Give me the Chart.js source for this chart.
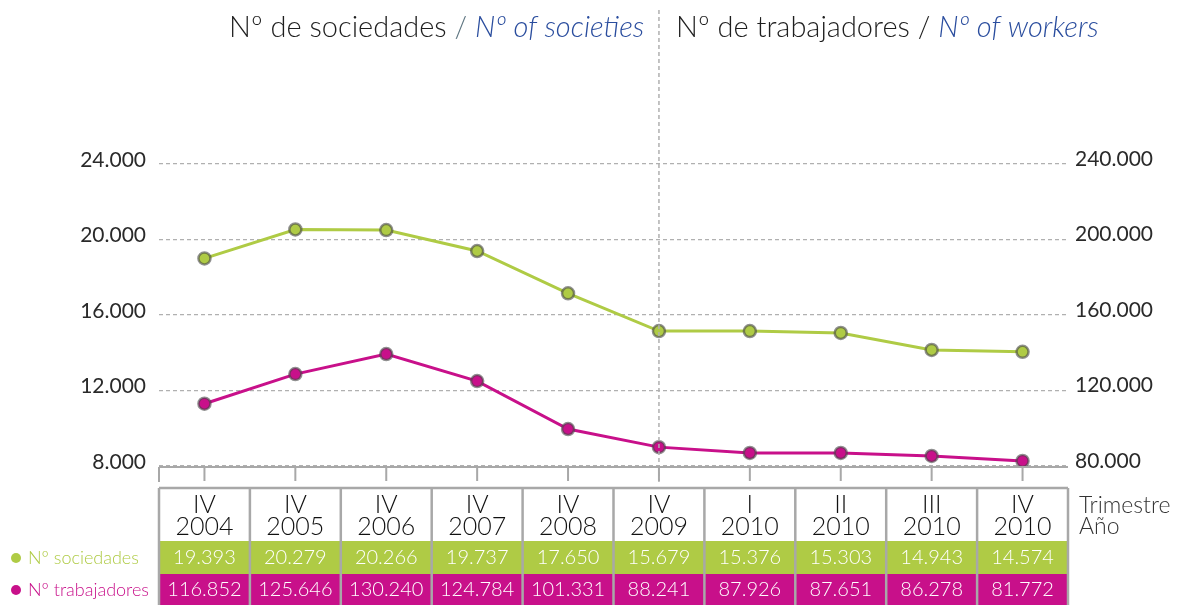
<!DOCTYPE html>
<html>
<head>
<meta charset="utf-8">
<script src="https://cdn.jsdelivr.net/npm/chart.js@4/dist/chart.umd.min.js"></script>
<style>
  html, body { margin: 0; padding: 0; background: #fff; }
  #chart { display: block; }
</style>
</head>
<body>
<canvas id="chart" width="1184" height="605"></canvas>
<script>
// trimestre / año
const quarters = ["IV", "IV", "IV", "IV", "IV", "IV", "I", "II", "III", "IV"];
const years = ["2004", "2005", "2006", "2007", "2008", "2009", "2010", "2010", "2010", "2010"];

// puntos tal como aparecen en el gráfico
const societies = [19000, 20530, 20500, 19390, 17150, 15150, 15150, 15050, 14150, 14050];
const workers = [113000, 128700, 139300, 125000, 99600, 90000, 86900, 86900, 85300, 82700];

// valores de la tabla
const societiesTable = [19393, 20279, 20266, 19737, 17650, 15679, 15376, 15303, 14943, 14574];
const workersTable = [116852, 125646, 130240, 124784, 101331, 88241, 87926, 87651, 86278, 81772];

const leftTicks = [8000, 12000, 16000, 20000, 24000];
const rightTicks = [80000, 120000, 160000, 200000, 240000];

const GREEN = "#afcb45";
const MAGENTA = "#c8108a";
const FONT = "Lato, 'Noto Sans', sans-serif";

function fmt(n) {
  return String(n).replace(/\B(?=(\d{3})+(?!\d))/g, ".");
}

const decor = {
  id: "decor",
  afterDraw(chart) {
    const ctx = chart.ctx;
    const x = chart.scales.x;
    const area = chart.chartArea;
    const cw = x.getPixelForValue(1) - x.getPixelForValue(0);
    const left = area.left;
    ctx.save();

    // titulos
    ctx.textBaseline = "alphabetic";
    function title(x0, parts) {
      let cx = x0;
      parts.forEach(p => {
        ctx.font = p[2] + " 300 29px " + FONT;
        ctx.fillStyle = p[1];
        ctx.fillText(p[0], cx, 37);
        cx += ctx.measureText(p[0]).width;
      });
    }
    ctx.textAlign = "left";
    title(229, [["Nº de sociedades ", "#1e1e1e", "normal"], ["/ ", "#5f7682", "normal"], ["Nº of societies", "#2a4d9e", "italic"]]);
    title(676, [["Nº de trabajadores / ", "#1e1e1e", "normal"], ["Nº of workers", "#2a4d9e", "italic"]]);

    // linea vertical discontinua
    const vx = x.getPixelForValue(5);
    ctx.strokeStyle = "#b0b0b0";
    ctx.lineWidth = 1.5;
    ctx.setLineDash([4, 3]);
    ctx.beginPath();
    ctx.moveTo(vx, 10);
    ctx.lineTo(vx, 482);
    ctx.stroke();
    ctx.setLineDash([]);

    // eje inferior y marcas
    ctx.strokeStyle = "#a8a8a8";
    ctx.lineWidth = 2;
    ctx.beginPath();
    ctx.moveTo(left, area.bottom + 1);
    ctx.lineTo(area.right, area.bottom + 1);
    ctx.moveTo(left, area.bottom + 1);
    ctx.lineTo(left, 482);
    quarters.forEach((q, i) => {
      const px = x.getPixelForValue(i);
      ctx.moveTo(px, area.bottom + 1);
      ctx.lineTo(px, 481);
    });
    ctx.stroke();

    // tabla
    const top = 488, r1 = 541, r2 = 574, bottom = 605;
    const right = left + cw * quarters.length;
    ctx.fillStyle = GREEN;
    ctx.fillRect(left, r1, right - left, r2 - r1);
    ctx.fillStyle = MAGENTA;
    ctx.fillRect(left, r2, right - left, bottom - r2);

    ctx.strokeStyle = "#a8a8a8";
    ctx.lineWidth = 2.5;
    ctx.beginPath();
    ctx.moveTo(left, top);
    ctx.lineTo(right, top);
    for (let i = 0; i <= quarters.length; i++) {
      ctx.moveTo(left + i * cw, top);
      ctx.lineTo(left + i * cw, bottom);
    }
    ctx.stroke();

    ctx.textAlign = "center";
    ctx.textBaseline = "middle";
    quarters.forEach((q, i) => {
      const cx = left + (i + 0.5) * cw;
      ctx.fillStyle = "#111";
      ctx.font = "300 25px " + FONT;
      ctx.fillText(q, cx, 505);
      ctx.fillText(years[i], cx, 527);
      ctx.fillStyle = "#ffffff";
      ctx.font = "300 20px " + FONT;
      ctx.fillText(fmt(societiesTable[i]), cx, 558);
      ctx.fillText(fmt(workersTable[i]), cx, 590);
    });

    // etiquetas de filas
    ctx.textAlign = "left";
    ctx.font = "300 18px " + FONT;
    [[GREEN, "Nº sociedades", 558], [MAGENTA, "Nº trabajadores", 590]].forEach(r => {
      ctx.fillStyle = r[0];
      ctx.beginPath();
      ctx.arc(16, r[2], 5, 0, Math.PI * 2);
      ctx.fill();
      ctx.fillText(r[1], 28, r[2]);
    });

    ctx.fillStyle = "#333";
    ctx.font = "300 23px " + FONT;
    ctx.fillText("Trimestre", 1079, 506);
    ctx.fillText("Año", 1079, 527);
    ctx.restore();
  }
};

new Chart(document.getElementById("chart"), {
  type: "line",
  data: {
    labels: years.map((y, i) => quarters[i] + " " + y),
    datasets: [
      {
        label: "Nº sociedades",
        data: societies,
        yAxisID: "y",
        borderColor: GREEN,
        backgroundColor: GREEN,
        borderWidth: 3,
        pointRadius: 6,
        pointBackgroundColor: GREEN,
        pointBorderColor: "rgba(70,70,70,0.6)",
        pointBorderWidth: 2.5,
        tension: 0
      },
      {
        label: "Nº trabajadores",
        data: workers,
        yAxisID: "y2",
        borderColor: MAGENTA,
        backgroundColor: MAGENTA,
        borderWidth: 3,
        pointRadius: 6,
        pointBackgroundColor: MAGENTA,
        pointBorderColor: "rgba(70,70,70,0.6)",
        pointBorderWidth: 2.5,
        tension: 0
      }
    ]
  },
  options: {
    responsive: false,
    animation: false,
    layout: { padding: { top: 164, bottom: 139, left: 0, right: 0 } },
    plugins: { legend: { display: false }, tooltip: { enabled: false } },
    scales: {
      x: { type: "category", offset: true, display: false },
      y: {
        position: "left",
        min: 8000,
        max: 24000,
        afterBuildTicks: s => { s.ticks = leftTicks.map(v => ({ value: v })); },
        afterFit: s => { s.width = 159; },
        ticks: {
          padding: 13,
          labelOffset: -4,
          color: "#2a2a2a",
          font: { family: FONT, size: 21, weight: 400 },
          callback: v => fmt(v)
        },
        grid: { color: "#b0b0b0", lineWidth: 1.2, drawTicks: false },
        border: { display: false, dash: [4, 3] }
      },
      y2: {
        position: "right",
        min: 80000,
        max: 240000,
        afterBuildTicks: s => { s.ticks = rightTicks.map(v => ({ value: v })); },
        afterFit: s => { s.width = 116; },
        ticks: {
          padding: 7,
          labelOffset: -5,
          color: "#2a2a2a",
          font: { family: FONT, size: 21, weight: 400 },
          callback: v => fmt(v)
        },
        grid: { display: false, drawTicks: false },
        border: { display: false }
      }
    }
  },
  plugins: [decor]
});
</script>
</body>
</html>
